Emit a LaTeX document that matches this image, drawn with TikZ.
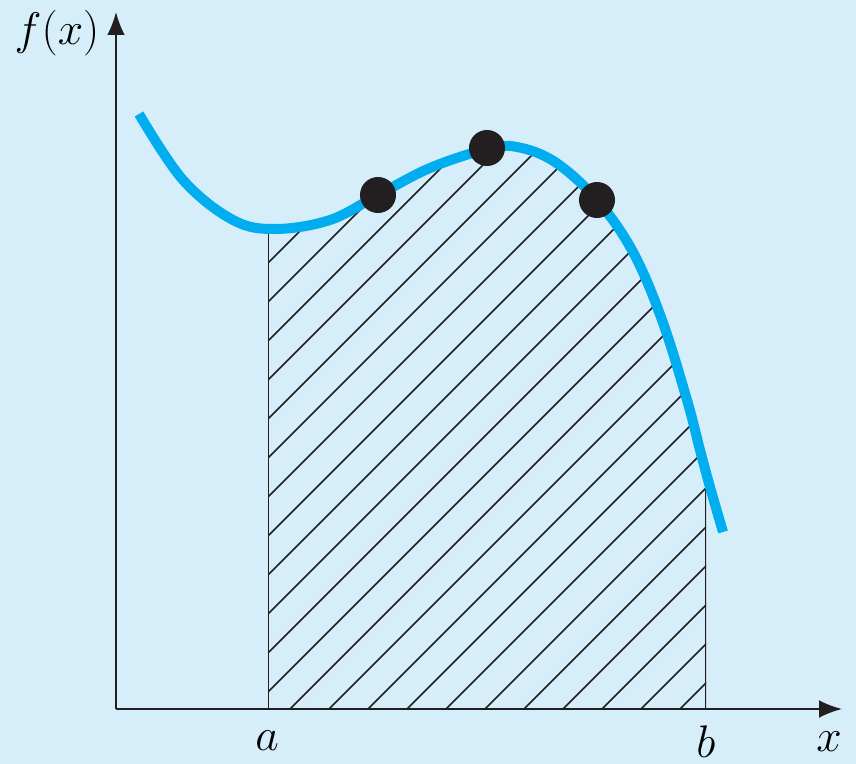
\documentclass[tikz,border=0pt]{standalone}
\usepackage{fix-cm}
\usetikzlibrary{arrows.meta}
\definecolor{bgblue}{RGB}{214,238,250}
\definecolor{curveblue}{RGB}{0,174,239}
\definecolor{inkgray}{RGB}{35,31,32}

\begin{document}
\begin{tikzpicture}[
		x=0.02cm, y=-0.02cm,
		axis/.style={draw=inkgray, line width=1pt, -{Latex[length=13pt, width=10pt]}},
		hatch/.style={draw=inkgray, line width=0.9pt},
		bound/.style={draw=inkgray, line width=0.9pt},
		fcurve/.style={draw=curveblue, line width=5.7pt},
		point/.style={circle, fill=inkgray, inner sep=0pt, minimum size=20.5pt},
		lbl/.style={font=\fontsize{26}{31}\selectfont, inner sep=0pt, anchor=base}
		]
		
		% Background
		\fill[bgblue] (0,0) rectangle (856,764);
		
		% Axes
		\coordinate (O) at (116,709);
		\coordinate (ytip) at (116,12);
		\coordinate (xtip) at (842,709);
		\coordinate (A) at (268,709);
		\coordinate (B) at (706,709);
		
		% Hatched area between a and b
		\begin{scope}
			\clip (A) rectangle (706,0);
			\clip plot[smooth, tension=0.6] coordinates {(139,114) (183,180) (233,220) (275,229) (330,220) (378,195) (430,168) (487,149) (517,147) (555,162) (597,200) (633,252) (662,320) (687,400) (700,450) (710,487) (723,532)}
				-- (723,709) -- (139,709) -- cycle;
			\foreach \k in {-13,...,11}
				\draw[hatch] ({999+39*\k-709},709) -- ({999+39*\k-100},100);
			\draw[bound] (A) -- (268,0);
			\draw[bound] (B) -- (706,0);
		\end{scope}
		
		\draw[axis] (O) -- (ytip);
		\draw[axis] (O) -- (xtip);
		
		% Function
		\draw[fcurve] plot[smooth, tension=0.6] coordinates {(139,114) (183,180) (233,220) (275,229) (330,220) (378,195) (430,168) (487,149) (517,147) (555,162) (597,200) (633,252) (662,320) (687,400) (700,450) (710,487) (723,532)};
		
		% Points
		\node[point] (p1) at (378,195) {};
		\node[point] (p2) at (487,148) {};
		\node[point] (p3) at (597,200) {};
		
		% Labels
		\node[lbl] (fx) at (57,44) {$f(x)$};
		\node[lbl] (la) at (267,750) {$a$};
		\node[lbl] (lb) at (706,757) {$b$};
		\node[lbl] (lx) at (829,751) {$x$};
		
	\end{tikzpicture}
\end{document}
